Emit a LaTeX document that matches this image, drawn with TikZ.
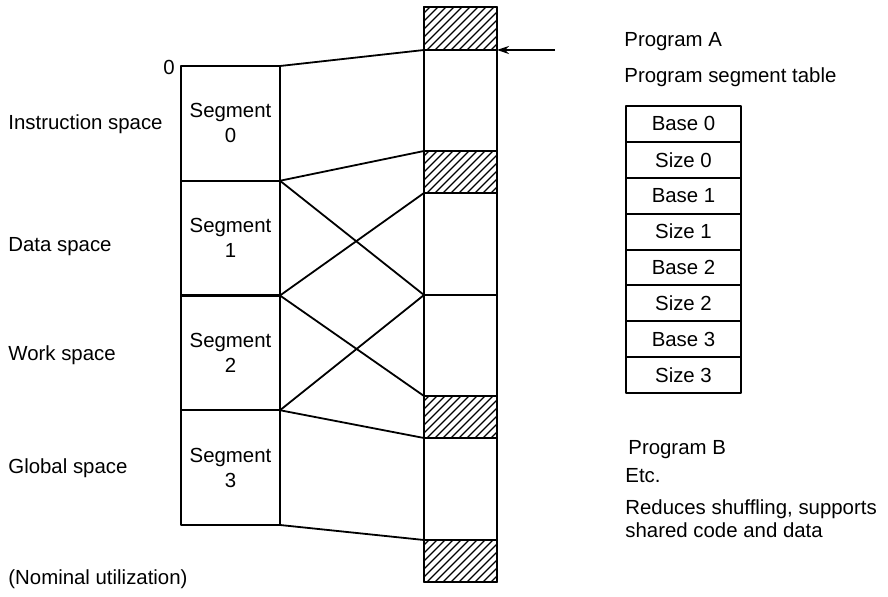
\documentclass[tikz,border=0pt]{standalone}
\usepackage{fontspec}
\setmainfont{Liberation Sans}
\usetikzlibrary{calc,arrows.meta}

\begin{document}
\begin{tikzpicture}[x=0.5pt,y=-0.5pt,line join=round,
  every node/.style={font=\fontsize{10.2}{12.5}\selectfont},
  seg/.style={draw,line width=1.1pt,minimum width=49.5pt,minimum height=57.375pt,
    inner sep=0pt,outer sep=0pt,align=center,anchor=north west},
  mem/.style={draw,line width=1.1pt,minimum width=36.5pt,inner sep=0pt,outer sep=0pt,
    anchor=north west},
  row/.style={draw,line width=1pt,minimum width=57.5pt,minimum height=17.95pt,
    inner sep=0pt,outer sep=0pt,anchor=north west},
  lbl/.style={anchor=base west,inner sep=0pt},
  link/.style={line width=0.9pt},
  hatch/.style={line width=0.55pt}]
\useasboundingbox (0,0) rectangle (888,597);

% program segments
\node[seg] (seg0) at (181,66) {Segment\\0};
\node[seg] (seg1) at (seg0.south west) {Segment\\1};
\node[seg] (seg2) at (seg1.south west) {Segment\\2};
\node[seg] (seg3) at (seg2.south west) {Segment\\3};

% physical memory column
\node[mem,minimum height=21.5pt] (m0) at (424,7) {};
\node[mem,minimum height=50.5pt] (m1) at (m0.south west) {};
\node[mem,minimum height=21pt] (m2) at (m1.south west) {};
\node[mem,minimum height=51pt] (m3) at (m2.south west) {};
\node[mem,minimum height=50.5pt] (m4) at (m3.south west) {};
\node[mem,minimum height=21pt] (m5) at (m4.south west) {};
\node[mem,minimum height=51pt] (m6) at (m5.south west) {};
\node[mem,minimum height=21pt] (m7) at (m6.south west) {};

% occupied (hatched) areas
\foreach \n in {m0,m2,m5,m7}{
  \begin{scope}
    \clip (\n.south west) rectangle (\n.north east);
    \foreach \k in {0,...,16}
      \draw[hatch] ($(\n.south west)+(\k*8-45,0)$) -- ++(50,-50);
  \end{scope}
  \draw[line width=1.1pt] (\n.south west) rectangle (\n.north east);
}

% segment mappings
\draw[link] (seg0.north east) -- (m1.north west);
\draw[link] (seg0.south east) -- (m2.north west);
\draw[link] (seg1.north east) -- (m4.north west);
\draw[link] (seg2.north east) -- (m3.north west);
\draw[link] (seg2.north east) -- (m5.north west);
\draw[link] (seg3.north east) -- (m4.north west);
\draw[link] (seg3.north east) -- (m6.north west);
\draw[link] (seg3.south east) -- (m7.north west);

% base pointer
\coordinate (ptr) at (555,50);
\draw[line width=0.6pt,-{Stealth[length=6pt,width=4pt]}] (ptr) -- (m1.north east);

% left labels
\node[anchor=base east,inner sep=0pt] (zero) at (175,75) {0};
\node[lbl] (ins) at (8,130) {Instruction space};
\node[lbl] (dat) at (8,252) {Data space};
\node[lbl] (wrk) at (8,361) {Work space};
\node[lbl] (glb) at (8,474) {Global space};
\node[lbl] (nom) at (8,585) {(Nominal utilization)};

% program segment table
\node[lbl] (pa) at (624,47) {Program A};
\node[lbl] (pst) at (624,83) {Program segment table};
\node[row] (t0) at (626,106) {Base 0};
\node[row] (t1) at (t0.south west) {Size 0};
\node[row] (t2) at (t1.south west) {Base 1};
\node[row] (t3) at (t2.south west) {Size 1};
\node[row] (t4) at (t3.south west) {Base 2};
\node[row] (t5) at (t4.south west) {Size 2};
\node[row] (t6) at (t5.south west) {Base 3};
\node[row] (t7) at (t6.south west) {Size 3};

\node[lbl] (pb) at (628,455) {Program B};
\node[lbl] (etc) at (625,483) {Etc.};
\node[lbl] (red) at (625,515) {Reduces shuffling, supports};
\node[lbl] (shr) at (625,538) {shared code and data};
\end{tikzpicture}
\end{document}
